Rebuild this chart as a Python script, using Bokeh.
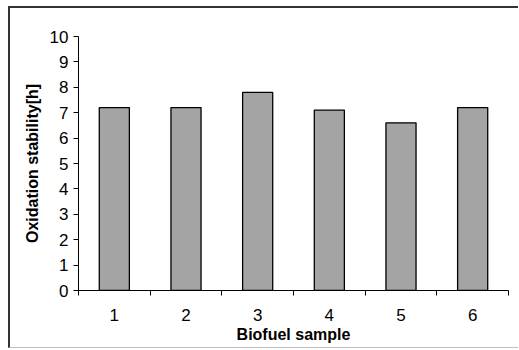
from bokeh.plotting import figure
from bokeh.models import FixedTicker, Range1d
from bokeh.embed import file_html
from bokeh.resources import INLINE

samples = [1, 2, 3, 4, 5, 6]
stability = [7.2, 7.2, 7.8, 7.1, 6.6, 7.2]
y_ticks = [0, 1, 2, 3, 4, 5, 6, 7, 8, 9, 10]
x_bounds = [0.5, 1.5, 2.5, 3.5, 4.5, 5.5, 6.5]

FONT = "Liberation Sans"

p = figure(width=510, height=342, output_backend="svg", toolbar_location=None,
           x_range=Range1d(0.5, 6.5), y_range=Range1d(0, 10),
           min_border_left=68, min_border_right=12, min_border_top=28, min_border_bottom=60)
p.margin = (6, 0, 0, 8)
p.styles = {"border-top": "2px solid #333333", "border-left": "2px solid #333333",
            "border-bottom": "1px solid #c0c0c0"}

p.vbar(x=samples, top=stability, width=0.42, bottom=0,
       fill_color="#a4a4a4", line_color="black", line_width=1.3)

p.grid.visible = False
p.outline_line_color = None
p.background_fill_color = "white"
p.border_fill_color = "white"

xa = p.xaxis[0]
xa.ticker = FixedTicker(ticks=samples, minor_ticks=x_bounds)
xa.major_tick_line_color = None
xa.minor_tick_in = 0
xa.minor_tick_out = 5
xa.minor_tick_line_color = "black"
xa.axis_line_color = "black"
xa.major_label_text_font = FONT
xa.major_label_text_font_size = "17px"
xa.major_label_text_color = "black"
xa.major_label_standoff = 12
xa.axis_label = "Biofuel sample"
xa.axis_label_text_font = FONT
xa.axis_label_text_font_style = "bold"
xa.axis_label_text_font_size = "16px"
xa.axis_label_text_color = "black"
xa.axis_label_standoff = 2

ya = p.yaxis[0]
ya.ticker = FixedTicker(ticks=y_ticks, minor_ticks=[])
ya.major_tick_in = 0
ya.major_tick_out = 5
ya.major_tick_line_color = "black"
ya.axis_line_color = "black"
ya.major_label_text_font = FONT
ya.major_label_text_font_size = "17px"
ya.major_label_text_color = "black"
ya.major_label_standoff = 5
ya.axis_label = "Oxidation stability[h]"
ya.axis_label_text_font = FONT
ya.axis_label_text_font_style = "bold"
ya.axis_label_text_font_size = "16px"
ya.axis_label_text_color = "black"
ya.axis_label_standoff = 6

open("out.html", "w").write(file_html(p, INLINE))
